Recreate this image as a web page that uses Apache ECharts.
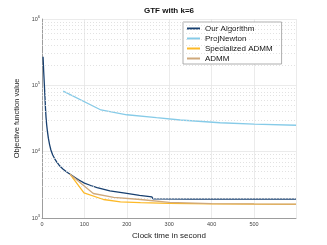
<!DOCTYPE html>
<html><head><meta charset="utf-8">
<script src="https://cdn.jsdelivr.net/npm/echarts@6/dist/echarts.min.js"></script>
<style>html,body{margin:0;padding:0;background:#fff}#c{width:327px;height:245px}</style>
</head><body><div id="c"></div>
<script>
const titleText = 'GTF with k=6';
const seriesNames = ['Our Algorithm', 'ProjNewton', 'Specialized ADMM', 'ADMM'];
const ourTime  = [2.5, 4, 5.5, 7, 8.2, 9.5, 11, 12.5, 15, 18, 21, 25, 30, 35, 40, 45, 50, 60, 70, 85, 100, 115, 130, 160, 200, 230, 259, 262, 350, 450, 599];
const ourValue = [270000, 160000, 105000, 66000, 45000, 33000, 25500, 21000, 16000, 12700, 10600, 9000, 7800, 6950, 6300, 5830, 5450, 4850, 4400, 3800, 3350, 3090, 2880, 2570, 2350, 2200, 2080, 1940, 1930, 1925, 1920];
const projTime  = [50, 139, 200, 270, 326, 420, 500, 599];
const projValue = [82000, 42500, 36000, 32500, 30000, 27300, 26000, 25000];
const specTime  = [66, 99, 145, 185, 232, 300, 400, 500, 599];
const specValue = [4570, 2390, 1900, 1750, 1710, 1660, 1630, 1615, 1610];
const admmTime  = [66, 121, 169, 232, 300, 400, 500, 599];
const admmValue = [4570, 2340, 2040, 1900, 1720, 1650, 1630, 1620];
const xTicks = [0, 100, 200, 300, 400, 500];
const yDecades = [1000, 10000, 100000, 1000000];

const colors = ['#173f6f', '#86cbe8', '#fdb927', '#cfa97c'];
const minorGrid = [];
for (let k = 3; k <= 5; k++) for (let m = 2; m <= 9; m++) minorGrid.push({yAxis: m * Math.pow(10, k)});

function pairs(t, v) { return t.map((x, i) => [x, v[i]]); }
const font = 'Liberation Sans, Arial, sans-serif';

const chart = echarts.init(document.getElementById('c'), null, {renderer: 'canvas'});
const mk = (i, t, v) => ({
  name: seriesNames[i], type: 'line', data: pairs(t, v), symbol: 'none',
  lineStyle: {color: colors[i], width: 1.3}, itemStyle: {color: colors[i]},
  z: 3 + i, animation: false
});
chart.setOption({
  animation: false,
  textStyle: {fontFamily: font},
  title: {text: titleText, left: 144, top: 7, padding: 0,
    textStyle: {fontSize: 8, fontWeight: 'bold', color: '#111', fontFamily: font}},
  grid: {left: 42, right: 31, top: 19, bottom: 27, containLabel: false},
  legend: {
    data: seriesNames, orient: 'vertical', left: 183, top: 22,
    padding: [1.5, 9, 0.5, 3], itemWidth: 13, itemHeight: 10, itemGap: 0,
    itemStyle: {opacity: 0},
    backgroundColor: '#fff', borderColor: '#9a9a9a', borderWidth: 0.8, borderRadius: 0,
    textStyle: {fontSize: 8, color: '#111', lineHeight: 10, fontFamily: font}
  },
  xAxis: {
    type: 'value', min: 0, max: 599, interval: 100,
    name: 'Clock time in second', nameLocation: 'middle', nameGap: 11,
    nameTextStyle: {fontSize: 8, color: '#222', fontFamily: font},
    axisLine: {lineStyle: {color: '#8a8a8a', width: 0.8}},
    axisTick: {show: false},
    axisLabel: {fontSize: 5.5, color: '#444', margin: 3, showMaxLabel: false,
      formatter: v => xTicks.indexOf(v) >= 0 ? String(v) : ''},
    splitLine: {show: true, lineStyle: {color: '#e6e6e6', width: 0.8}}
  },
  yAxis: {
    type: 'log', logBase: 10, min: 1000, max: 1000000,
    name: 'Objective function value', nameLocation: 'middle', nameGap: 13,
    nameTextStyle: {fontSize: 7.5, color: '#222', fontFamily: font},
    axisLine: {show: true, lineStyle: {color: '#8a8a8a', width: 0.8}},
    axisTick: {show: false},
    axisLabel: {margin: 2, color: '#444',
      formatter: v => yDecades.indexOf(v) >= 0 ? '{a|10}{b|' + Math.round(Math.log10(v)) + '}' : '',
      rich: {a: {fontSize: 5.5, color: '#444', fontFamily: font, lineHeight: 8},
             b: {fontSize: 4, color: '#444', fontFamily: font, verticalAlign: 'top', lineHeight: 8}}},
    splitLine: {show: true, lineStyle: {color: '#e6e6e6', width: 0.8}}
  },
  series: [
    {name: '_grid', type: 'line', data: [], silent: true,
      markLine: {silent: true, symbol: 'none', label: {show: false}, animation: false,
        lineStyle: {color: '#dadada', type: [1, 2], width: 0.8}, data: minorGrid}, z: 1},
    mk(0, ourTime, ourValue),
    mk(1, projTime, projValue),
    mk(2, specTime, specValue),
    mk(3, admmTime, admmValue)
  ]
});
</script></body></html>
